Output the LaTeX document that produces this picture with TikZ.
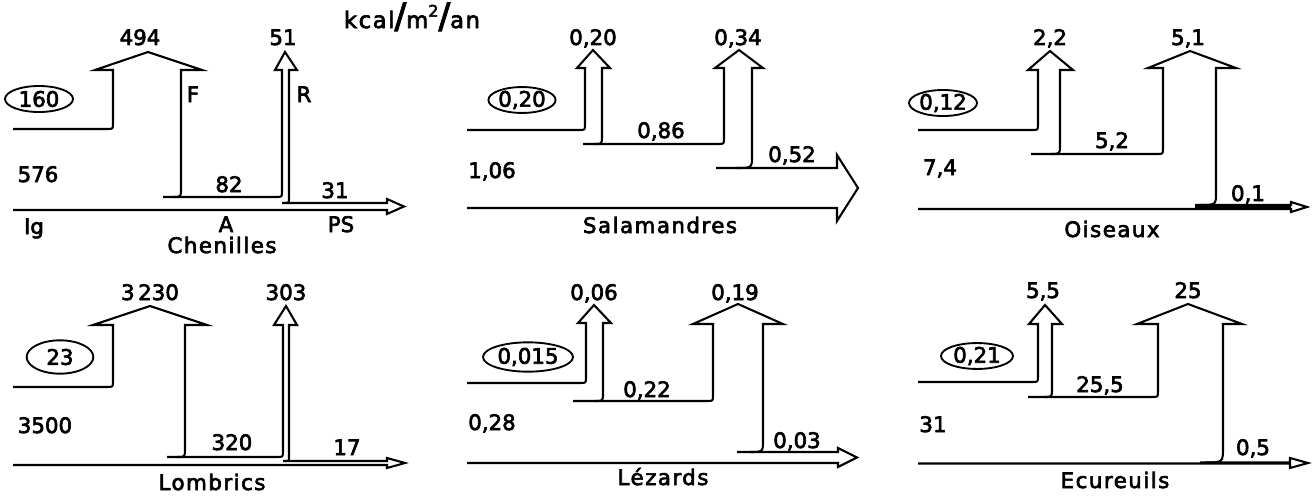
\documentclass[tikz,border=0pt]{standalone}
\usepackage{fontspec}
\setmainfont[FakeBold=3]{DejaVu Sans}
\newfontfamily\namefont[LetterSpace=7,FakeBold=3]{DejaVu Sans}
\usetikzlibrary{shapes.geometric}
\begin{document}
\begin{tikzpicture}[x=0.75pt,y=-0.75pt,
  fl/.style={line width=1.55pt},
  lab/.style={anchor=base, inner sep=0pt, font=\fontsize{16}{19}\selectfont},
  nm/.style={anchor=base, inner sep=0pt, font=\namefont\fontsize{16}{19}\selectfont},
  ell/.style={draw, ellipse, line width=1.4pt, inner sep=0pt, font=\fontsize{16}{19}\selectfont}]
\useasboundingbox (0,0) rectangle (1315,496);

% ---------- Panel 1 : Chenilles ----------
\draw[fl] (13,129) -- (107,129) .. controls (113,129) .. (113,123) -- (113,70) -- (95,70) -- (148,52) -- (202,70) -- (181,70) -- (181,189) .. controls (181,197) .. (173,197);
\draw[fl] (163,197) -- (276,197) .. controls (282,197) .. (282,191) -- (282,70) -- (275,70) -- (285,52) -- (297,70) -- (289,70) -- (289,198) .. controls (289,203) .. (284,203);
\draw[fl] (282,203) -- (387,203) -- (387,199) -- (404,206.5) -- (387,214) -- (387,210) -- (13,210);
\node[lab] (c494) at (140,45) {494};
\node[lab] (c51) at (283,45) {51};
\node[lab] (cF) at (193,102) {F};
\node[lab] (cR) at (304,102) {R};
\node[ell, minimum width=51pt, minimum height=19.5pt] (c160) at (39,99) {160};
\node[lab] (c576) at (38,182) {576};
\node[lab] (c82) at (229,192) {82};
\node[lab] (c31) at (335,198) {31};
\node[lab] (cIg) at (34,234) {Ig};
\node[lab] (cA) at (226,232) {A};
\node[lab] (cPS) at (341,232) {PS};
\node[nm] (cname) at (222,253) {Chenilles};
\node[anchor=base, inner sep=0pt, font=\namefont\fontsize{17}{20}\selectfont] (unit) at (412,28) {kcal{\fontsize{26}{26}\selectfont /}m\raisebox{0.5em}{\fontsize{12}{12}\selectfont 2}{\fontsize{26}{26}\selectfont /}an};

% ---------- Panel 2 : Salamandres ----------
\draw[fl] (467,130) -- (579,130) .. controls (585,130) .. (585,124) -- (585,68) -- (577,68) -- (593,50) -- (610,68) -- (602,68) -- (602,136) .. controls (602,144) .. (594,144);
\draw[fl] (583,144) -- (718,144) .. controls (724,144) .. (724,138) -- (724,68) -- (715,68) -- (739,50) -- (763,68) -- (752,68) -- (752,156) .. controls (752,168) .. (736,168);
\draw[fl] (716,168) -- (837,168) -- (837,155) -- (858,188) -- (837,221) -- (837,208) -- (467,208);
\node[lab] (s020t) at (593,45) {0,20};
\node[lab] (s034) at (738,45) {0,34};
\node[ell, minimum width=48pt, minimum height=18.75pt] (s020) at (522,100) {0,20};
\node[lab] (s086) at (661,138) {0,86};
\node[lab] (s052) at (792,162) {0,52};
\node[lab] (s106) at (492,178) {1,06};
\node[nm] (sname) at (660,233) {Salamandres};

% ---------- Panel 3 : Oiseaux ----------
\draw[fl] (918,130) -- (1032,130) .. controls (1038,130) .. (1038,124) -- (1038,70) -- (1028,70) -- (1050,51) -- (1073,70) -- (1060,70) -- (1060,145) .. controls (1060,154) .. (1051,154);
\draw[fl] (1031,154) -- (1157,154) .. controls (1163,154) .. (1163,148) -- (1163,68) -- (1148,68) -- (1190,51) -- (1236,68) -- (1216,68) -- (1216,192) .. controls (1216,205) .. (1200,205);
\fill (1195,205) rectangle (1291,209);
\draw[fl] (1195,205) -- (1291,205) -- (1291,202) -- (1307,207) -- (1291,212) -- (1291,209) -- (918,209);
\node[lab] (o22) at (1050,45) {2,2};
\node[lab] (o51) at (1188,45) {5,1};
\node[ell, minimum width=51pt, minimum height=19.5pt] (o012) at (943,103) {0,12};
\node[lab] (o52) at (1112,148) {5,2};
\node[lab] (o74) at (940,175) {7,4};
\node[lab] (o01) at (1248,201) {0,1};
\node[nm] (oname) at (1112,237) {Oiseaux};

% ---------- Panel 4 : Lombrics ----------
\draw[fl] (13,387) -- (107,387) .. controls (113,387) .. (113,381) -- (113,325) -- (93,325) -- (150,306) -- (207,325) -- (185,325) -- (185,449) .. controls (185,457) .. (177,457);
\draw[fl] (167,457) -- (277,457) .. controls (283,457) .. (283,451) -- (283,325) -- (274,325) -- (286,306) -- (297,325) -- (289,325) -- (289,457) .. controls (289,461) .. (285,461);
\draw[fl] (283,461) -- (387,461) -- (387,458) -- (405,463) -- (387,468) -- (387,465) -- (13,465);
\node[lab] (l3230) at (150,300) {3\,230};
\node[lab] (l303) at (286,300) {303};
\node[ell, minimum width=50pt, minimum height=25pt] (l23) at (60,357) {23};
\node[lab] (l3500) at (45,433) {3500};
\node[lab] (l320) at (232,450) {320};
\node[lab] (l17) at (347,455) {17};
\node[nm] (lname) at (212,490) {Lombrics};

% ---------- Panel 5 : Lezards ----------
\draw[fl] (467,383) -- (580,383) .. controls (586,383) .. (586,377) -- (586,323) -- (578,323) -- (594,305) -- (611,323) -- (603,323) -- (603,393) .. controls (603,401) .. (595,401);
\draw[fl] (573,401) -- (707,401) .. controls (713,401) .. (713,395) -- (713,324) -- (693,324) -- (738,304) -- (783,324) -- (763,324) -- (763,440) .. controls (763,452) .. (750,452);
\draw[fl] (737,452) -- (838,452) -- (838,448) -- (857,457.5) -- (838,467) -- (838,463) -- (467,463);
\node[lab] (z006) at (594,300) {0,06};
\node[lab] (z019) at (735,300) {0,19};
\node[ell, minimum width=67.5pt, minimum height=22pt] (z0015) at (528,357) {0,015};
\node[lab] (z022) at (647,397) {0,22};
\node[lab] (z028) at (492,430) {0,28};
\node[lab] (z003) at (797,448) {0,03};
\node[nm] (zname) at (663,485) {Lézards};

% ---------- Panel 6 : Ecureuils ----------
\draw[fl] (918,382) -- (1032,382) .. controls (1038,382) .. (1038,376) -- (1038,324) -- (1029,324) -- (1045,305) -- (1062,324) -- (1052,324) -- (1052,389) .. controls (1052,397) .. (1044,397);
\draw[fl] (1028,397) -- (1152,397) .. controls (1158,397) .. (1158,391) -- (1158,324) -- (1137,324) -- (1188,304) -- (1242,324) -- (1223,324) -- (1223,447) .. controls (1223,462.5) .. (1205,462.5);
\draw[fl] (1200,462.5) -- (1290,462.5) -- (1290,458) -- (1308,463) -- (1290,468) -- (1290,463.5) -- (918,463.5);
\node[lab] (e55) at (1043,298) {5,5};
\node[lab] (e25) at (1188,298) {25};
\node[ell, minimum width=54pt, minimum height=19pt] (e021) at (977,356) {0,21};
\node[lab] (e255) at (1100,392) {25,5};
\node[lab] (e31) at (933,432) {31};
\node[lab] (e05) at (1253,455) {0,5};
\node[nm] (ename) at (1115,488) {Ecureuils};
\end{tikzpicture}
\end{document}
